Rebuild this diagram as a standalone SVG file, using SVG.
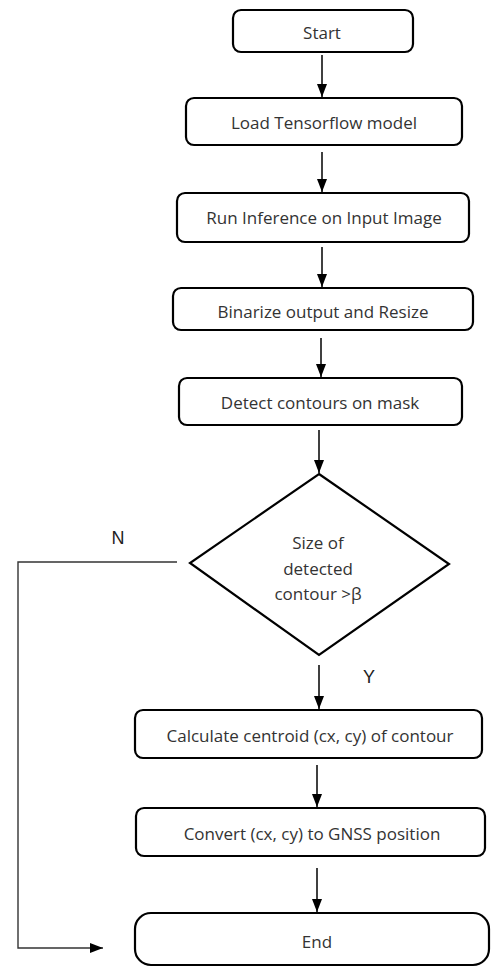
<svg xmlns="http://www.w3.org/2000/svg" width="491" height="967" viewBox="0 0 491 967">
<style>
.box{fill:#fff;stroke:#000;stroke-width:2.2}
.lbl{font-family:"Open Sans","Noto Sans",sans-serif;font-size:17px;fill:#333;text-anchor:middle;dominant-baseline:central}
.yn{font-family:"Liberation Sans",Arial,sans-serif;font-size:18px;fill:#222;text-anchor:middle;dominant-baseline:central}
.con{fill:none;stroke:#000;stroke-width:1.5}
.conN{fill:none;stroke:#333;stroke-width:1.4}
</style>
<defs>
<marker id="ah" viewBox="0 0 13 10" refX="13" refY="5" markerWidth="13" markerHeight="10" markerUnits="userSpaceOnUse" orient="auto">
<path d="M0,0 L13,5 L0,10 z" fill="#000"/>
</marker>
</defs>
<rect width="491" height="967" fill="#fff"/>
<g id="connectors">
<line class="con" x1="322" y1="55" x2="322" y2="97" marker-end="url(#ah)"/>
<line class="con" x1="322" y1="152" x2="322" y2="192" marker-end="url(#ah)"/>
<line class="con" x1="322" y1="247" x2="322" y2="287" marker-end="url(#ah)"/>
<line class="con" x1="321" y1="338" x2="321" y2="377" marker-end="url(#ah)"/>
<line class="con" x1="319" y1="430" x2="319" y2="473" marker-end="url(#ah)"/>
<line class="con" x1="319" y1="665" x2="319" y2="709" marker-end="url(#ah)"/>
<line class="con" x1="317" y1="765" x2="317" y2="807" marker-end="url(#ah)"/>
<line class="con" x1="317" y1="868" x2="317" y2="912" marker-end="url(#ah)"/>
<path class="conN" d="M177,562 H18 V948 H103" marker-end="url(#ah)"/>
<text class="yn" x="118" y="538">N</text>
<text class="yn" x="369" y="677">Y</text>
</g>
<g id="start"><rect class="box" x="233" y="10" width="180" height="42" rx="8"/><text class="lbl" x="322" y="32">Start</text></g>
<g id="load"><rect class="box" x="186" y="98" width="276" height="47" rx="8"/><text class="lbl" x="324" y="122">Load Tensorflow model</text></g>
<g id="run"><rect class="box" x="177" y="193" width="292" height="49" rx="8"/><text class="lbl" x="324" y="217">Run Inference on Input Image</text></g>
<g id="binarize"><rect class="box" x="173" y="288" width="300" height="42" rx="8"/><text class="lbl" x="323" y="311">Binarize output and Resize</text></g>
<g id="detect"><rect class="box" x="179" y="378" width="283" height="47" rx="8"/><text class="lbl" x="320" y="402">Detect contours on mask</text></g>
<g id="decision"><polygon class="box" points="319,474 449,564 319,655 190,563"/>
<text class="lbl" x="318" y="542">Size of</text>
<text class="lbl" x="318" y="568">detected</text>
<text class="lbl" x="318" y="593">contour &gt;β</text></g>
<g id="calc"><rect class="box" x="135" y="710" width="347" height="48" rx="8"/><text class="lbl" x="310" y="735">Calculate centroid (cx, cy) of contour</text></g>
<g id="convert"><rect class="box" x="136" y="808" width="349" height="48" rx="8"/><text class="lbl" x="312" y="833">Convert (cx, cy) to GNSS position</text></g>
<g id="end"><rect class="box" x="135" y="913" width="354" height="52" rx="16"/><text class="lbl" x="317" y="941">End</text></g>
</svg>
